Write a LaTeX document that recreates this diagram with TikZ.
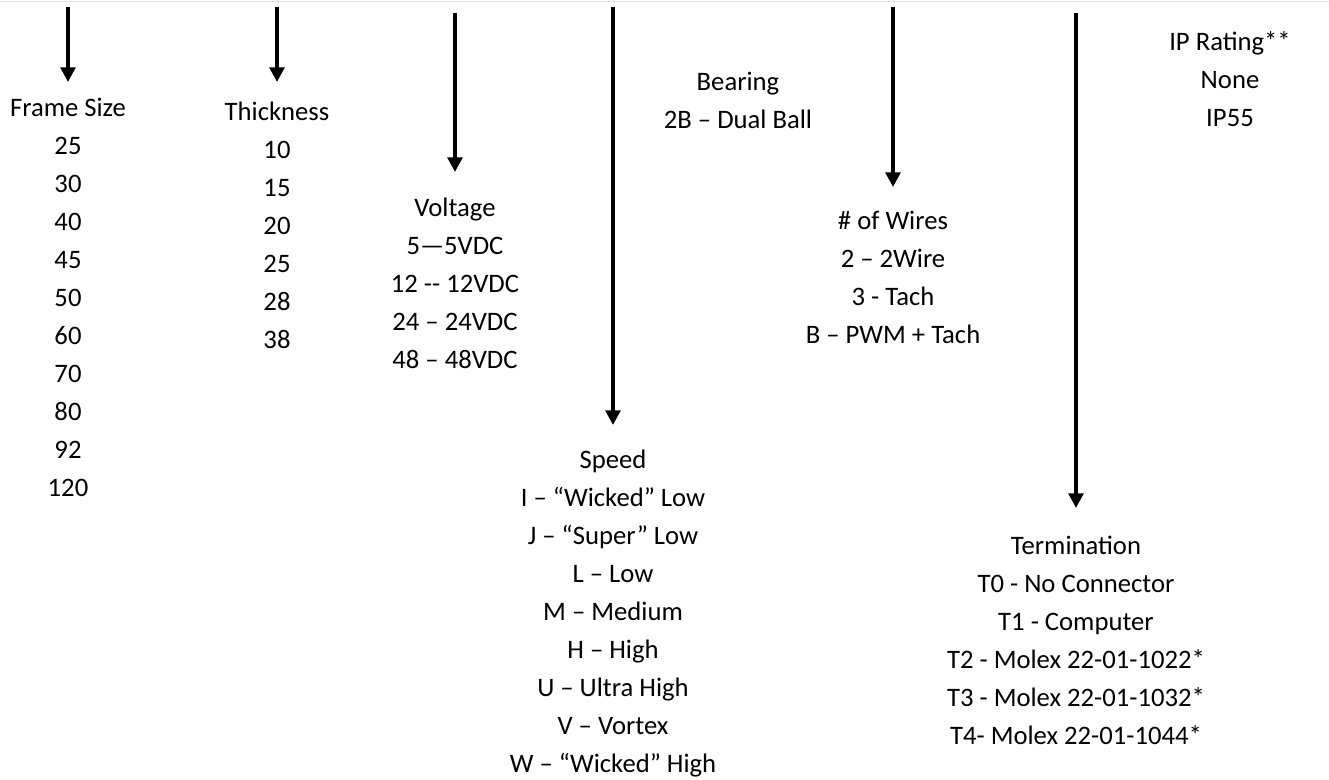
\documentclass[tikz,border=0pt]{standalone}
\usepackage{fontspec}
\setmainfont{Carlito}
\usetikzlibrary{arrows.meta}

\begin{document}
\begin{tikzpicture}[x=0.75pt,y=-0.75pt,
        arr/.style={line width=3.5pt,-{Triangle[width=11pt,length=11pt]}},
        col/.style={anchor=north,align=center,inner sep=0pt,font=\fontsize{20}{28.5}\selectfont}]

        \useasboundingbox (0,0) rectangle (1329,779);
        \draw [gray!25,line width=0.75pt] (0,1) -- (1329,1); %top border

        %Frame size
        \node (frame) [col] at (68,98) {Frame Size\\25\\30\\40\\45\\50\\60\\70\\80\\92\\120};
        \coordinate (frametop) at (68,7);
        \draw [arr,shorten >=12pt] (frametop) -- (frame.north);

        %Thickness
        \node (thick) [col] at (277,102) {Thickness\\10\\15\\20\\25\\28\\38};
        \coordinate (thicktop) at (277,7);
        \draw [arr,shorten >=15pt] (thicktop) -- (thick.north);

        %Voltage
        \node (volt) [col] at (455,198) {Voltage\\5—5VDC\\12 -{}- 12VDC\\24 – 24VDC\\48 – 48VDC};
        \coordinate (volttop) at (455,13);
        \draw [arr,shorten >=19.5pt] (volttop) -- (volt.north);

        %Speed
        \node (speed) [col] at (613,450) {Speed\\I – “Wicked” Low\\J – “Super” Low\\L – Low\\M – Medium\\H – High\\U – Ultra High\\V – Vortex\\W – “Wicked” High};
        \coordinate (speedtop) at (613,7);
        \draw [arr,shorten >=18.75pt] (speedtop) -- (speed.north);

        %Bearing (no arrow)
        \node (bear) [col] at (738,72) {Bearing\\2B – Dual Ball};

        %Number of wires
        \node (wires) [col] at (893,211) {\# of Wires\\2 – 2Wire\\3 - Tach\\B – PWM + Tach};
        \coordinate (wirestop) at (893,7);
        \draw [arr,shorten >=18pt] (wirestop) -- (wires.north);

        %Termination
        \node (term) [col] at (1076,536) {Termination\\T0 - No Connector\\T1 - Computer\\T2 - Molex 22-01-1022*\\T3 - Molex 22-01-1032*\\T4- Molex 22-01-1044*};
        \coordinate (termtop) at (1076,13);
        \draw [arr,shorten >=21pt] (termtop) -- (term.north);

        %IP rating (no arrow)
        \node (iprate) [col] at (1230,31) {IP Rating**\\None\\IP55};

    \end{tikzpicture}
\end{document}
